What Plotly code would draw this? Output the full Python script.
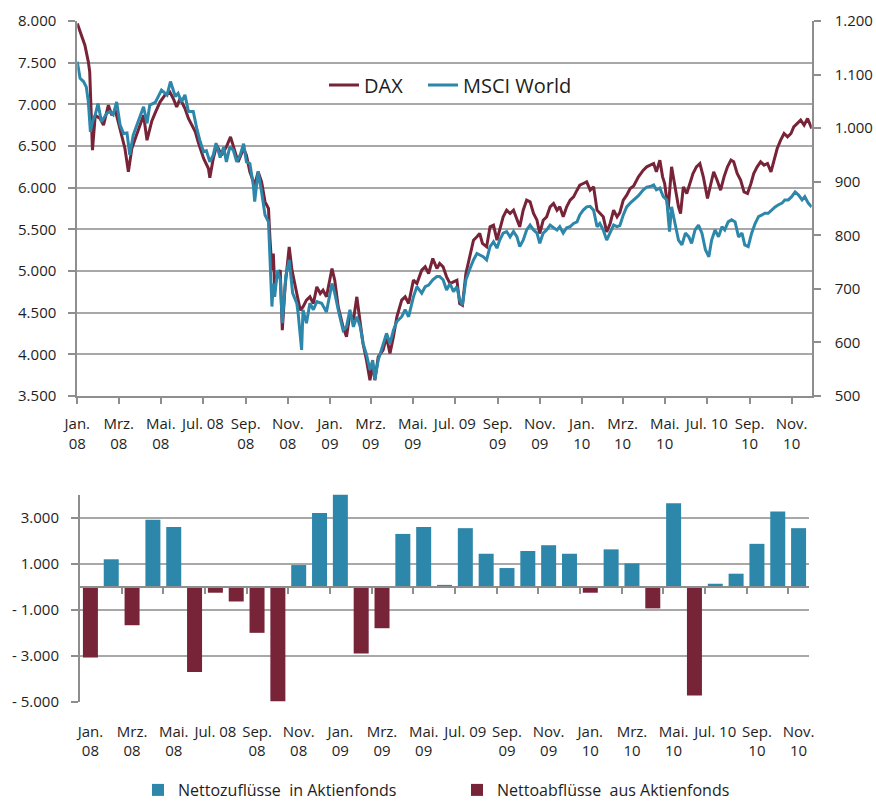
import pandas as pd
import plotly.graph_objects as go

# ---------------- data ----------------
# days since 2008-01-01 and index levels
dax_day = [0, 6, 11, 16, 18, 22, 26, 33, 38, 45, 50, 55, 59, 64, 69, 74, 79, 84, 91, 96,
           101, 108, 113, 120, 127, 134, 139, 144, 149, 156, 161, 166, 171, 175, 183, 190,
           192, 197, 202, 209, 216, 222, 228, 233, 241, 245, 250, 257, 262, 267, 272, 277,
           279, 282, 284, 286, 289, 294, 297, 301, 307, 311, 318, 323, 327, 332, 337, 342,
           347, 352, 356, 361, 369, 373, 378, 385, 390, 395, 400, 405, 410, 414, 419, 424,
           428, 431, 436, 443, 448, 453, 458, 463, 470, 475, 480, 487, 492, 499, 504, 509,
           515, 521, 525, 530, 535, 540, 545, 550, 554, 558, 563, 569, 574, 579, 583, 587,
           593, 598, 603, 608, 612, 617, 622, 627, 632, 637, 641, 646, 651, 656, 661, 666,
           670, 675, 680, 685, 690, 695, 699, 704, 709, 714, 719, 724, 728, 733, 738, 743,
           748, 753, 757, 762, 767, 772, 777, 782, 786, 791, 796, 801, 806, 813, 820, 825,
           830, 835, 839, 844, 848, 851, 856, 861, 866, 871, 874, 878, 883, 888, 892, 897,
           902, 907, 913, 918, 922, 927, 932, 937, 942, 947, 951, 956, 961, 966, 971, 976,
           980, 985, 990, 995, 1000, 1005, 1009, 1014, 1019, 1024, 1029, 1034, 1038, 1043,
           1048, 1053, 1058, 1064]
dax_val = [7970, 7830, 7710, 7510, 7390, 6450, 6870, 6830, 6750, 6990, 6870, 6930, 6800, 6630,
           6470, 6190, 6470, 6590, 6750, 6870, 6570, 6800, 6900, 7030, 7110, 7150, 7070, 6970,
           7070, 6950, 6830, 6750, 6670, 6550, 6350, 6230, 6120, 6350, 6510, 6390, 6490, 6610,
           6430, 6310, 6470, 6390, 6190, 6030, 6190, 6070, 5830, 5750, 5410, 5010, 5210, 4810,
           4930, 5010, 4290, 4810, 5290, 5010, 4730, 4530, 4570, 4650, 4690, 4610, 4810, 4730,
           4770, 4690, 5030, 4890, 4570, 4330, 4210, 4490, 4410, 4690, 4370, 4130, 3930, 3690,
           3890, 3690, 3970, 4050, 4210, 4010, 4210, 4450, 4650, 4690, 4610, 4890, 4850, 5010,
           5050, 4970, 5150, 5030, 5090, 5050, 4930, 4850, 4870, 4890, 4610, 4590, 4970, 5170,
           5370, 5410, 5450, 5330, 5290, 5530, 5550, 5370, 5490, 5650, 5730, 5690, 5730, 5610,
           5530, 5730, 5850, 5830, 5690, 5610, 5450, 5610, 5650, 5770, 5810, 5730, 5770, 5650,
           5770, 5850, 5890, 5970, 6030, 6050, 6070, 5970, 6010, 5730, 5690, 5650, 5470, 5570,
           5730, 5650, 5700, 5850, 5910, 5990, 6020, 6130, 6210, 6250, 6270, 6290, 6190, 6330,
           6130, 6050, 5730, 6250, 6010, 5770, 5690, 6010, 5930, 6050, 6170, 6250, 6290, 6130,
           5870, 6050, 6190, 6090, 5970, 6130, 6250, 6330, 6310, 6170, 6090, 5950, 5930, 6050,
           6170, 6250, 6310, 6270, 6290, 6190, 6330, 6470, 6570, 6650, 6610, 6650, 6730, 6770,
           6810, 6750, 6830, 6710]

msci_day = [0, 4, 9, 13, 16, 19, 22, 26, 30, 35, 43, 47, 52, 57, 62, 67, 72, 76, 81, 86, 91,
            96, 101, 105, 113, 117, 122, 130, 135, 142, 146, 151, 156, 161, 168, 173, 178, 183,
            187, 192, 197, 201, 207, 212, 216, 221, 226, 231, 236, 241, 245, 250, 255, 257, 262,
            267, 272, 277, 279, 282, 284, 286, 290, 294, 297, 302, 307, 312, 318, 320, 325, 327,
            332, 337, 342, 347, 354, 361, 369, 373, 378, 385, 390, 395, 400, 405, 410, 414, 419,
            424, 428, 431, 436, 443, 448, 453, 458, 463, 470, 475, 480, 487, 492, 499, 504, 509,
            515, 521, 525, 530, 535, 540, 545, 550, 554, 558, 563, 569, 574, 579, 583, 588, 593,
            598, 603, 608, 612, 617, 622, 627, 632, 637, 641, 646, 651, 656, 661, 666, 670, 675,
            680, 685, 690, 695, 699, 704, 709, 714, 719, 724, 728, 733, 738, 743, 748, 753, 757,
            762, 767, 772, 777, 782, 786, 791, 796, 801, 806, 813, 820, 825, 830, 835, 839, 844,
            849, 854, 858, 861, 866, 871, 876, 881, 886, 890, 895, 900, 905, 910, 915, 919, 924,
            929, 934, 938, 943, 948, 953, 958, 963, 967, 972, 977, 982, 987, 992, 996, 1001,
            1006, 1011, 1016, 1021, 1025, 1030, 1035, 1040, 1045, 1050, 1054, 1059, 1064]
msci_val = [1124, 1093, 1087, 1077, 1049, 993, 1012, 1025, 1046, 1012, 1028, 1031, 1025, 1049,
            1006, 990, 991, 950, 987, 1006, 1025, 1040, 1009, 1043, 1048, 1059, 1071, 1062, 1087,
            1059, 1065, 1049, 1062, 1031, 1031, 1000, 975, 956, 958, 937, 950, 972, 945, 965, 937,
            965, 959, 937, 950, 971, 937, 934, 894, 863, 919, 881, 838, 825, 760, 667, 710, 685,
            735, 717, 636, 723, 754, 692, 673, 654, 586, 661, 636, 673, 661, 676, 673, 657, 710,
            692, 661, 623, 629, 661, 629, 648, 629, 598, 577, 549, 567, 530, 567, 598, 617, 598,
            623, 639, 648, 661, 648, 685, 704, 692, 704, 707, 717, 723, 723, 717, 698, 710, 695,
            704, 679, 670, 717, 738, 754, 766, 763, 760, 754, 779, 788, 776, 791, 804, 807, 797,
            807, 797, 779, 791, 810, 819, 810, 804, 785, 804, 810, 819, 814, 810, 816, 804, 814,
            816, 822, 825, 838, 847, 853, 854, 847, 816, 822, 810, 791, 804, 819, 816, 818, 838,
            853, 860, 866, 874, 885, 890, 891, 894, 885, 888, 872, 866, 807, 853, 822, 791, 782,
            804, 797, 785, 810, 819, 804, 773, 760, 791, 810, 797, 816, 810, 825, 829, 825, 797,
            804, 782, 779, 804, 822, 835, 838, 841, 841, 847, 853, 857, 860, 866, 866, 872, 881,
            875, 866, 872, 860, 853]

# monthly net flows into equity funds (Jan 08 - Nov 10)
flows = [-3070, 1190, -1670, 2900, 2590, -3700, -260, -640, -2000, -4970, 940, 3200,
         4000, -2900, -1800, 2290, 2590, 80, 2540, 1430, 810, 1550, 1800, 1430,
         -260, 1620, 1010, -940, 3620, -4720, 130, 565, 1860, 3260, 2540]

tick_labels = ["Jan.<br>08", "Mrz.<br>08", "Mai.<br>08", "Jul. 08", "Sep.<br>08", "Nov.<br>08",
               "Jan.<br>09", "Mrz.<br>09", "Mai.<br>09", "Jul. 09", "Sep.<br>09", "Nov.<br>09",
               "Jan.<br>10", "Mrz.<br>10", "Mai.<br>10", "Jul. 10", "Sep.<br>10", "Nov.<br>10"]
tick_dates = ["2008-01-01", "2008-03-01", "2008-05-01", "2008-07-01", "2008-09-01", "2008-11-01",
              "2009-01-01", "2009-03-01", "2009-05-01", "2009-07-01", "2009-09-01", "2009-11-01",
              "2010-01-01", "2010-03-01", "2010-05-01", "2010-07-01", "2010-09-01", "2010-11-01"]

bar_yticks = [-5000, -3000, -1000, 1000, 3000]
bar_yticktext = ["- 5.000", "- 3.000", "- 1.000", "1.000", "3.000"]

# ---------------- styling ----------------
RED = "#772338"
BLUE = "#2D87AA"
GRID = "#a8a8a8"
AXIS = "#8e8e8e"
TXT = "#1e1e1e"
FONT = "Open Sans"
W, H = 876, 803

start = pd.Timestamp("2008-01-01")
dax_dates = start + pd.to_timedelta(dax_day, unit="D")
msci_dates = start + pd.to_timedelta(msci_day, unit="D")

months = list(range(len(flows)))
pos = [v if v > 0 else None for v in flows]
neg = [v if v < 0 else None for v in flows]

fig = go.Figure()
fig.add_trace(go.Scatter(x=dax_dates, y=dax_val, name="DAX", mode="lines",
                         line=dict(color=RED, width=3), xaxis="x", yaxis="y", legend="legend"))
fig.add_trace(go.Scatter(x=msci_dates, y=msci_val, name="MSCI World", mode="lines",
                         line=dict(color=BLUE, width=3), xaxis="x", yaxis="y2", legend="legend3"))
fig.add_trace(go.Bar(x=months, y=pos, name="Nettozuflüsse\u00a0 in Aktienfonds",
                     marker=dict(color=BLUE, line=dict(width=0)), xaxis="x2", yaxis="y3",
                     legend="legend2"))
fig.add_trace(go.Bar(x=months, y=neg, name="Nettoabflüsse\u00a0 aus Aktienfonds",
                     marker=dict(color=RED, line=dict(width=0)), xaxis="x2", yaxis="y3",
                     legend="legend4"))

top_x = [77.3 / W, 811.7 / W]
top_y = [1 - 396 / H, 1 - 21 / H]
bot_x = [80 / W, 809 / W]
bot_y = [1 - 702 / H, 1 - 494.5 / H]
brange = [-5000, 4000]
zero_pos = bot_y[0] + (0 - brange[0]) / (brange[1] - brange[0]) * (bot_y[1] - bot_y[0])

tickfont_x = dict(family=FONT, size=15, color=TXT)
tickfont_y = dict(family=FONT, size=15, color=TXT)

def leg(x_px, y_px, size):
    return dict(orientation="h", x=x_px / W, y=1 - y_px / H, xanchor="left", yanchor="middle",
                font=dict(family=FONT, size=size, color=TXT), bgcolor="rgba(0,0,0,0)",
                borderwidth=0)

fig.update_layout(
    width=W, height=H,
    margin=dict(l=0, r=0, t=0, b=0, autoexpand=False),
    paper_bgcolor="white", plot_bgcolor="white",
    separators=",.",
    font=dict(family=FONT, color=TXT),
    barmode="overlay", bargap=0.28,
    xaxis=dict(domain=top_x, anchor="y", type="date",
               range=[start, start + pd.Timedelta(days=1064)],
               tickmode="array", tickvals=tick_dates, ticktext=tick_labels,
               ticks="outside", ticklen=6, tickwidth=1.5, tickcolor=AXIS,
               showline=True, linecolor=AXIS, linewidth=2, showgrid=False,
               tickfont=tickfont_x, automargin=False, ticklabelstandoff=7),
    yaxis=dict(domain=top_y, anchor="x", range=[3500, 8000], dtick=500, tick0=3500,
               tickformat=",d", showgrid=True, gridcolor=GRID, gridwidth=1.5,
               ticks="outside", ticklen=7, tickwidth=1.5, tickcolor=AXIS,
               showline=True, linecolor=AXIS, linewidth=2, zeroline=False,
               tickfont=tickfont_y, automargin=False, ticklabelstandoff=9),
    yaxis2=dict(overlaying="y", side="right", anchor="x", range=[500, 1200], dtick=100,
                tick0=500, tickformat=",d", showgrid=False,
                ticks="outside", ticklen=7, tickwidth=1.5, tickcolor=AXIS,
                showline=True, linecolor=AXIS, linewidth=2, zeroline=False,
                tickfont=tickfont_y, automargin=False, ticklabelstandoff=11),
    xaxis2=dict(domain=bot_x, anchor="free", position=zero_pos, range=[-0.5, len(flows) - 0.5],
                tickmode="array", tickvals=list(range(0, len(flows), 2)), ticktext=tick_labels,
                ticks="", showline=True, linecolor=AXIS, linewidth=2, showgrid=False,
                minor=dict(tickmode="array", tickvals=[i + 1.5 for i in range(0, len(flows) - 1, 2)],
                           ticks="outside", ticklen=6, tickwidth=1.5, tickcolor=AXIS,
                           showgrid=False),
                tickfont=tickfont_x, automargin=False, ticklabelstandoff=131),
    yaxis3=dict(domain=bot_y, anchor="x2", range=brange, tickmode="array",
                tickvals=bar_yticks, ticktext=bar_yticktext,
                showgrid=True, gridcolor=GRID, gridwidth=1.5,
                ticks="outside", ticklen=7, tickwidth=1.5, tickcolor=AXIS,
                showline=True, linecolor=AXIS, linewidth=2, zeroline=False,
                tickfont=tickfont_y, automargin=False, ticklabelstandoff=9),
    legend=leg(324, 85, 20),
    legend3=leg(423, 85, 20),
    legend2=leg(138, 790, 16),
    legend4=leg(457, 790, 16),
    showlegend=True,
)

fig.write_html("out.html", config={"displayModeBar": False},
               post_script="document.body.style.margin='0';document.body.style.overflow='hidden';")
